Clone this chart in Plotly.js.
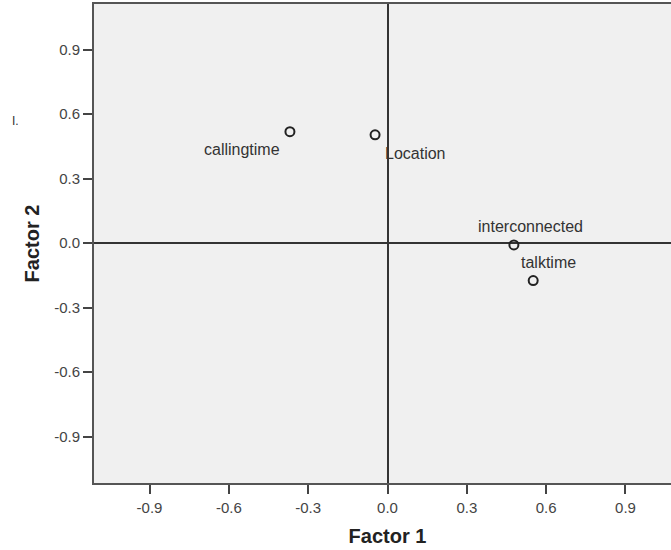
<!DOCTYPE html>
<html>
<head>
<meta charset="utf-8">
<script src="https://cdn.plot.ly/plotly-3.0.1.min.js"></script>
<style>
  html, body { margin: 0; padding: 0; overflow: hidden; background: #fff; }
  #chart { width: 690px; height: 550px; }
</style>
</head>
<body>
<div id="chart"></div>
<script>
// ---- data ----
const variables = ['callingtime', 'Location', 'interconnected', 'talktime'];
const factor1 = [-0.369, -0.047, 0.478, 0.551];
const factor2 = [0.519, 0.504, -0.008, -0.174];
const tickValues = [-0.9, -0.6, -0.3, 0.0, 0.3, 0.6, 0.9];
const tickLabels = ['-0.9', '-0.6', '-0.3', '0.0', '0.3', '0.6', '0.9'];
const xTitle = 'Factor 1';
const yTitle = 'Factor 2';

// ---- label placement (style only) ----
const labelStyle = {
  callingtime:    { xanchor: 'right',  xshift: -8,  yshift: -18 },
  Location:       { xanchor: 'left',   xshift: 8,   yshift: -19 },
  interconnected: { xanchor: 'center', xshift: 17,  yshift: 18 },
  talktime:       { xanchor: 'center', xshift: 15,  yshift: 18 }
};

const FONT = 'Liberation Sans, Arial, sans-serif';
const labelFont = { family: FONT, size: 16, color: '#333' };

const annotations = variables.map((v, i) => ({
  x: factor1[i], y: factor2[i], xref: 'x', yref: 'y',
  text: v, showarrow: false,
  xanchor: labelStyle[v].xanchor, yanchor: 'middle',
  xshift: labelStyle[v].xshift, yshift: labelStyle[v].yshift,
  font: labelFont
}));

annotations.push({
  xref: 'paper', yref: 'paper', x: 0, y: 0.755,
  xanchor: 'center', yanchor: 'middle', xshift: -79,
  text: 'I.', showarrow: false,
  font: { family: FONT, size: 12, color: '#333' }
});

const trace = {
  type: 'scatter', mode: 'markers',
  x: factor1, y: factor2, text: variables,
  marker: { symbol: 'circle-open', size: 9, color: '#222', line: { width: 2, color: '#222' } },
  hoverinfo: 'text'
};

const axisCommon = {
  tickvals: tickValues, ticktext: tickLabels,
  ticks: 'outside', ticklen: 9, tickwidth: 2, tickcolor: '#444',
  tickfont: { family: FONT, size: 15, color: '#444' },
  showgrid: false,
  zeroline: true, zerolinecolor: '#333', zerolinewidth: 2,
  showline: true, linecolor: '#555', linewidth: 2, mirror: true,
  automargin: false
};

const layout = {
  width: 690, height: 550,
  margin: { l: 94, r: 9, t: 4, b: 67 },
  paper_bgcolor: '#ffffff',
  plot_bgcolor: '#f0f0f0',
  showlegend: false,
  xaxis: Object.assign({}, axisCommon, {
    range: [-1.11, 1.11],
    ticklabelstandoff: 1,
    title: { text: xTitle, standoff: 14, font: { family: FONT, size: 20, color: '#222', weight: 'bold' } }
  }),
  yaxis: Object.assign({}, axisCommon, {
    range: [-1.116, 1.113],
    title: { text: yTitle, standoff: 9, font: { family: FONT, size: 20, color: '#222', weight: 'bold' } }
  }),
  annotations: annotations
};

Plotly.newPlot('chart', [trace], layout, { displayModeBar: false, staticPlot: true });
</script>
</body>
</html>
